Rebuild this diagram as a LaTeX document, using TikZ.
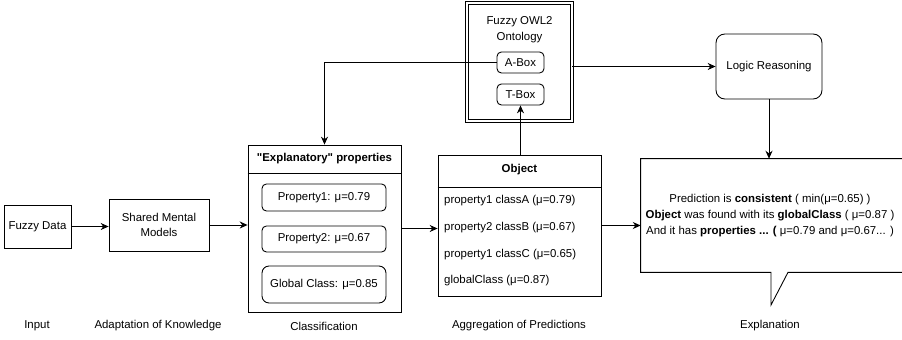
\documentclass[tikz,border=0pt]{standalone}
\usepackage{fontspec}
\setmainfont{Liberation Sans}
\usetikzlibrary{arrows.meta,positioning}

\tikzset{
	box/.style={draw, line width=0.5pt, align=center, inner sep=0pt},
	rbox/.style={box, rounded corners=2.5pt},
	line/.style={line width=0.5pt},
	arr/.style={line, -{Stealth[length=4.5pt,width=4pt]}},
	caption/.style={inner sep=0pt}
}

\begin{document}
\begin{tikzpicture}[x=0.02cm, y=-0.02cm, every node/.style={font=\fontsize{6.5}{9}\selectfont}]
\useasboundingbox (0,0) rectangle (902,340);

% input and knowledge
\node[box, minimum width=1.34cm, minimum height=0.86cm] (fuzzy) at (37.5,226.5) {Fuzzy Data};
\node[box, minimum width=2.0cm, minimum height=1.04cm] (smm) at (159,225) {Shared Mental\\Models};

% classification
\node[box, minimum width=3.06cm, minimum height=3.34cm] (class) at (324.5,228.5) {};
\draw[line] (class.west |- 0,173) -- (class.east |- 0,173);
\node (classhead) at (324.5,159) {\bfseries \textquotedbl Explanatory\textquotedbl{} properties};
\node[rbox, minimum width=2.48cm, minimum height=0.54cm] (prop1) at (324,197.5) {Property1: μ=0.79};
\node[rbox, minimum width=2.48cm, minimum height=0.52cm] (prop2) at (324,239) {Property2: μ=0.67};
\node[rbox, rounded corners=4pt, minimum width=2.48cm, minimum height=0.74cm] (global) at (324,284.5) {Global Class: μ=0.85};

% aggregation
\node[box, minimum width=3.26cm, minimum height=2.82cm] (obj) at (519.5,225.5) {};
\draw[line] (obj.west |- 0,187) -- (obj.east |- 0,187);
\node (objhead) at (519.5,170) {\bfseries Object};
\foreach \i / \y / \t in {1/201/property1 classA (μ=0.79), 2/228/property2 classB (μ=0.67), 3/255/property1 classC (μ=0.65), 4/281/globalClass (μ=0.87)} {
	\node[anchor=west] (row\i) at (438,\y) {\t};
}

% ontology
\node[box, double, line width=0.5pt, double distance=1pt, minimum width=2.1cm, minimum height=2.36cm] (onto) at (519.5,62) {};
\node[align=center] (ontohead) at (519.5,30) {Fuzzy OWL2\\Ontology};
\node[rbox, minimum width=0.94cm, minimum height=0.42cm] (abox) at (520.5,62.5) {A-Box};
\node[rbox, minimum width=0.94cm, minimum height=0.42cm] (tbox) at (520.5,94.5) {T-Box};

% reasoning and explanation
\node[box, rounded corners=5pt, minimum width=2.12cm, minimum height=1.3cm] (logic) at (769,66.5) {Logic Reasoning};
\node[align=center, minimum width=5.16cm, minimum height=2.26cm, inner sep=0pt] (expl) at (770,215.5) {Prediction is \textbf{consistent} ( min(μ=0.65) )\\\textbf{Object} was found with its \textbf{globalClass} ( μ=0.87 )\\And it has \textbf{properties ... (} μ=0.79 and μ=0.67... )};
\coordinate (tip) at (771,305);
\draw[line] ([xshift=3mm]expl.north east) -- (expl.north west) -- (expl.south west) -- (tip |- expl.south) -- (tip) -- ([xshift=0.34cm]tip |- expl.south) -- ([xshift=3mm]expl.south east);

% connectors
\draw[arr] (fuzzy.east) -- (fuzzy.east -| smm.west);
\draw[arr] (smm.east) -- (smm.east -| class.west);
\draw[arr] (class.east) -- (class.east -| obj.west);
\draw[arr] (obj.east) -- (obj.east -| expl.west);
\draw[arr] (tbox.south |- obj.north) -- (tbox.south);
\draw[arr] (abox.west) -| (class.north);
\draw[arr] (logic.west -| onto.east) -- (logic.west);
\draw[arr] (logic.south) -- (logic.south |- expl.north);

% stage names
\foreach \n / \x / \t in {input/37/Input, adapt/158/Adaptation of Knowledge, classify/324/Classification, aggregate/519/Aggregation of Predictions, explain/770/Explanation} {
	\node[caption] (\n) at (\x,326) {\t};
}
\end{tikzpicture}
\end{document}
